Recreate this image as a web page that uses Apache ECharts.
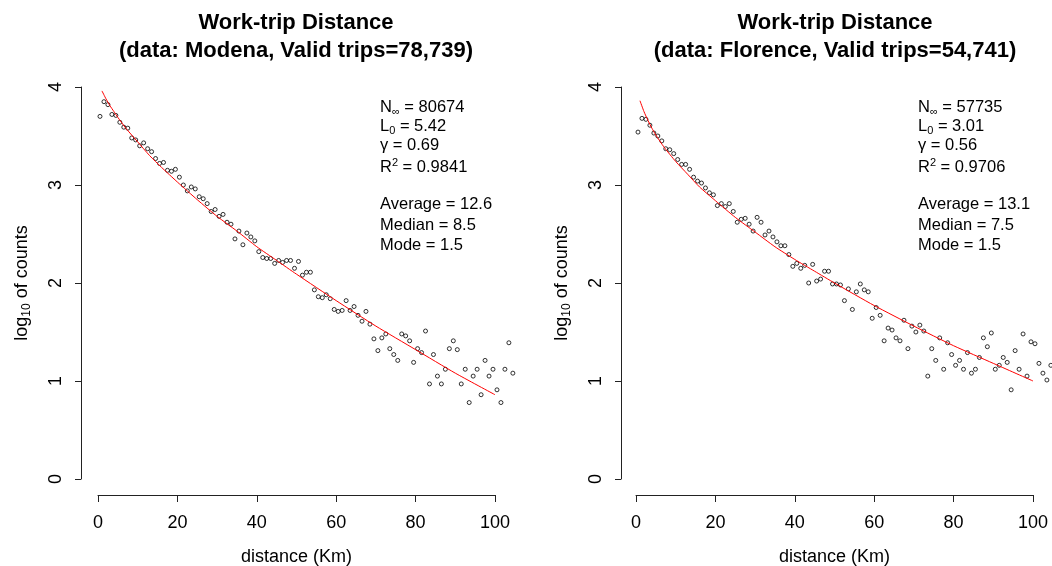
<!DOCTYPE html>
<html>
<head>
<meta charset="utf-8">
<script src="https://cdn.jsdelivr.net/npm/echarts@6/dist/echarts.min.js"></script>
<style>
  html, body { margin: 0; padding: 0; background: #fff; }
  #chart { width: 1052px; height: 566px; }
</style>
</head>
<body>
<div id="chart"></div>
<script>
// distance bins (km), bin midpoints
const distanceBins = [
  0.5, 1.5, 2.5, 3.5, 4.5, 5.5, 6.5, 7.5, 8.5, 9.5,
  10.5, 11.5, 12.5, 13.5, 14.5, 15.5, 16.5, 17.5, 18.5, 19.5,
  20.5, 21.5, 22.5, 23.5, 24.5, 25.5, 26.5, 27.5, 28.5, 29.5,
  30.5, 31.5, 32.5, 33.5, 34.5, 35.5, 36.5, 37.5, 38.5, 39.5,
  40.5, 41.5, 42.5, 43.5, 44.5, 45.5, 46.5, 47.5, 48.5, 49.5,
  50.5, 51.5, 52.5, 53.5, 54.5, 55.5, 56.5, 57.5, 58.5, 59.5,
  60.5, 61.5, 62.5, 63.5, 64.5, 65.5, 66.5, 67.5, 68.5, 69.5,
  70.5, 71.5, 72.5, 73.5, 74.5, 75.5, 76.5, 77.5, 78.5, 79.5,
  80.5, 81.5, 82.5, 83.5, 84.5, 85.5, 86.5, 87.5, 88.5, 89.5,
  90.5, 91.5, 92.5, 93.5, 94.5, 95.5, 96.5, 97.5, 98.5, 99.5,
  100.5, 101.5, 102.5, 103.5, 104.5
]

// log10 of counts per bin
const modenaLogCounts = [
  3.70, 3.85, 3.82, 3.72, 3.71, 3.64, 3.59, 3.58, 3.48, 3.46,
  3.40, 3.43, 3.37, 3.34, 3.27, 3.22, 3.23, 3.15, 3.14, 3.16,
  3.08, 3.00, 2.94, 2.98, 2.96, 2.88, 2.86, 2.81, 2.73, 2.75,
  2.68, 2.70, 2.62, 2.60, 2.45, 2.53, 2.39, 2.51, 2.47, 2.43,
  2.32, 2.26, 2.25, 2.25, 2.20, 2.23, 2.21, 2.23, 2.23, 2.15,
  2.22, 2.08, 2.11, 2.11, 1.93, 1.86, 1.85, 1.88, 1.84, 1.73,
  1.71, 1.72, 1.82, 1.72, 1.76, 1.67, 1.61, 1.71, 1.58, 1.43,
  1.31, 1.44, 1.48, 1.33, 1.27, 1.21, 1.48, 1.46, 1.41, 1.19,
  1.33, 1.29, 1.51, 0.97, 1.27, 1.05, 0.97, 1.12, 1.33, 1.41,
  1.32, 0.97, 1.12, 0.78, 1.05, 1.12, 0.86, 1.21, 1.05, 1.12,
  0.91, 0.78, 1.12, 1.39, 1.08
]

const florenceLogCounts = [
  3.54, 3.68, 3.67, 3.61, 3.53, 3.50, 3.45, 3.37, 3.36, 3.32,
  3.26, 3.21, 3.21, 3.16, 3.08, 3.04, 3.02, 2.97, 2.92, 2.90,
  2.79, 2.81, 2.78, 2.81, 2.73, 2.62, 2.65, 2.66, 2.60, 2.53,
  2.67, 2.62, 2.49, 2.53, 2.47, 2.42, 2.38, 2.38, 2.29, 2.17,
  2.20, 2.15, 2.18, 2.00, 2.19, 2.02, 2.04, 2.12, 2.12, 1.99,
  1.99, 1.98, 1.82, 1.94, 1.73, 1.91, 1.99, 1.93, 1.91, 1.64,
  1.75, 1.67, 1.41, 1.54, 1.52, 1.44, 1.41, 1.62, 1.33, 1.56,
  1.50, 1.57, 1.51, 1.05, 1.33, 1.21, 1.44, 1.12, 1.39, 1.27,
  1.16, 1.21, 1.12, 1.29, 1.08, 1.12, 1.24, 1.44, 1.35, 1.49,
  1.12, 1.16, 1.24, 1.19, 0.91, 1.31, 1.12, 1.48, 1.05, 1.40,
  1.38, 1.18, 1.08, 1.01, 1.16
]

// fitted curves
const fitDistance = [1, 2, 3, 4, 5, 7, 10, 13, 16, 20, 25, 30, 35, 40, 45, 50, 60, 70, 80, 90, 100]
const modenaFit = [3.96, 3.88, 3.81, 3.75, 3.69, 3.58, 3.44, 3.30, 3.18, 3.03, 2.85, 2.68, 2.53, 2.37, 2.23, 2.09, 1.82, 1.56, 1.32, 1.08, 0.86]
const florenceFit = [3.86, 3.75, 3.66, 3.58, 3.51, 3.39, 3.24, 3.11, 2.98, 2.84, 2.67, 2.52, 2.37, 2.24, 2.12, 2.00, 1.77, 1.56, 1.36, 1.18, 1.00]

const xTicks = { min: 0, max: 100, interval: 20 }
const yTicks = { min: 0, max: 4, interval: 1 }

const panelTitles = [
  ['Work-trip Distance', '(data: Modena, Valid trips=78,739)'],
  ['Work-trip Distance', '(data: Florence, Valid trips=54,741)']
]
const fitStats = [
  { nInf: '80674', l0: '5.42', gamma: '0.69', r2: '0.9841', average: '12.6', median: '8.5', mode: '1.5' },
  { nInf: '57735', l0: '3.01', gamma: '0.56', r2: '0.9706', average: '13.1', median: '7.5', mode: '1.5' }
]

const fontFamily = '"Liberation Sans", Arial, Helvetica, sans-serif'
const axisColor = '#222'

// panel geometry
const panels = [
  { gridLeft: 98, yOffset: 17, titleX: 296, statsX: 380, yNameGap: 48 },
  { gridLeft: 636, yOffset: 15, titleX: 835, statsX: 918, yNameGap: 48 }
]

function pairs(xs, ys) {
  return xs.map((x, i) => [x, ys[i]])
}

const richStyles = {
  a: { fontSize: 16.5, fontFamily: fontFamily, color: '#000', lineHeight: 20 },
  s: { fontSize: 11, fontFamily: fontFamily, color: '#000', lineHeight: 11, verticalAlign: 'bottom' },
  p: { fontSize: 11, fontFamily: fontFamily, color: '#000', lineHeight: 11, verticalAlign: 'top' }
}

function statTexts(stats, x) {
  const lines = [
    ['{a|N}{s|∞}{a| = ' + stats.nInf + '}', 107],
    ['{a|L}{s|0}{a| = ' + stats.l0 + '}', 126],
    ['{a|γ = ' + stats.gamma + '}', 145],
    ['{a|R}{p|2}{a| = ' + stats.r2 + '}', 167],
    ['{a|Average = ' + stats.average + '}', 204],
    ['{a|Median = ' + stats.median + '}', 225],
    ['{a|Mode = ' + stats.mode + '}', 245]
  ]
  return lines.map(([text, y]) => ({
    type: 'text',
    style: {
      text: text,
      x: x,
      y: y,
      align: 'left',
      verticalAlign: 'middle',
      rich: richStyles
    }
  }))
}

function titleTexts(lines, x) {
  return lines.map((text, i) => ({
    type: 'text',
    style: {
      text: text,
      x: x,
      y: 23 + i * 28,
      align: 'center',
      verticalAlign: 'middle',
      font: 'bold 22px ' + fontFamily,
      fill: '#000'
    }
  }))
}

const grid = panels.map((p) => ({
  left: p.gridLeft,
  width: 397,
  top: 87,
  bottom: 87,
  outerBoundsMode: 'none',
  containLabel: false
}))

const xAxis = panels.map((p, i) => ({
  gridIndex: i,
  type: 'value',
  min: xTicks.min,
  max: xTicks.max,
  interval: xTicks.interval,
  offset: 16,
  axisLine: { show: true, onZero: false, lineStyle: { color: axisColor, width: 1 } },
  axisTick: { show: true, length: 7, lineStyle: { color: axisColor } },
  splitLine: { show: false },
  axisLabel: { fontSize: 18, fontFamily: fontFamily, color: '#000', margin: 19 },
  name: 'distance (Km)',
  nameLocation: 'middle',
  nameGap: 53,
  nameTextStyle: { fontSize: 18, fontFamily: fontFamily, color: '#000' }
}))

const yAxis = panels.map((p, i) => ({
  gridIndex: i,
  type: 'value',
  min: yTicks.min,
  max: yTicks.max,
  interval: yTicks.interval,
  offset: p.yOffset,
  axisLine: { show: true, onZero: false, lineStyle: { color: axisColor, width: 1 } },
  axisTick: { show: true, length: 6, lineStyle: { color: axisColor } },
  splitLine: { show: false },
  axisLabel: { rotate: 90, fontSize: 18, fontFamily: fontFamily, color: '#000', margin: 16 },
  name: '{a|log}{s|10}{a| of counts}',
  nameLocation: 'middle',
  nameGap: p.yNameGap,
  nameRotate: 90,
  nameTextStyle: {
    rich: {
      a: { fontSize: 18, fontFamily: fontFamily, color: '#000', lineHeight: 22 },
      s: { fontSize: 12, fontFamily: fontFamily, color: '#000', lineHeight: 12, verticalAlign: 'bottom' }
    }
  }
}))

const pointSeries = [modenaLogCounts, florenceLogCounts].map((ys, i) => ({
  type: 'scatter',
  xAxisIndex: i,
  yAxisIndex: i,
  data: pairs(distanceBins, ys),
  symbol: 'circle',
  symbolSize: 4,
  clip: false,
  itemStyle: { color: 'rgba(0,0,0,0)', borderColor: '#000', borderWidth: 1 },
  z: 2
}))

const fitSeries = [modenaFit, florenceFit].map((ys, i) => ({
  type: 'line',
  xAxisIndex: i,
  yAxisIndex: i,
  data: pairs(fitDistance, ys),
  showSymbol: false,
  smooth: 0.2,
  lineStyle: { color: '#ff0000', width: 1 },
  z: 3
}))

const chart = echarts.init(document.getElementById('chart'))
chart.setOption({
  animation: false,
  backgroundColor: '#fff',
  grid: grid,
  xAxis: xAxis,
  yAxis: yAxis,
  series: pointSeries.concat(fitSeries),
  graphic: {
    elements: [].concat(
      titleTexts(panelTitles[0], panels[0].titleX),
      titleTexts(panelTitles[1], panels[1].titleX),
      statTexts(fitStats[0], panels[0].statsX),
      statTexts(fitStats[1], panels[1].statsX)
    )
  }
})
</script>
</body>
</html>
